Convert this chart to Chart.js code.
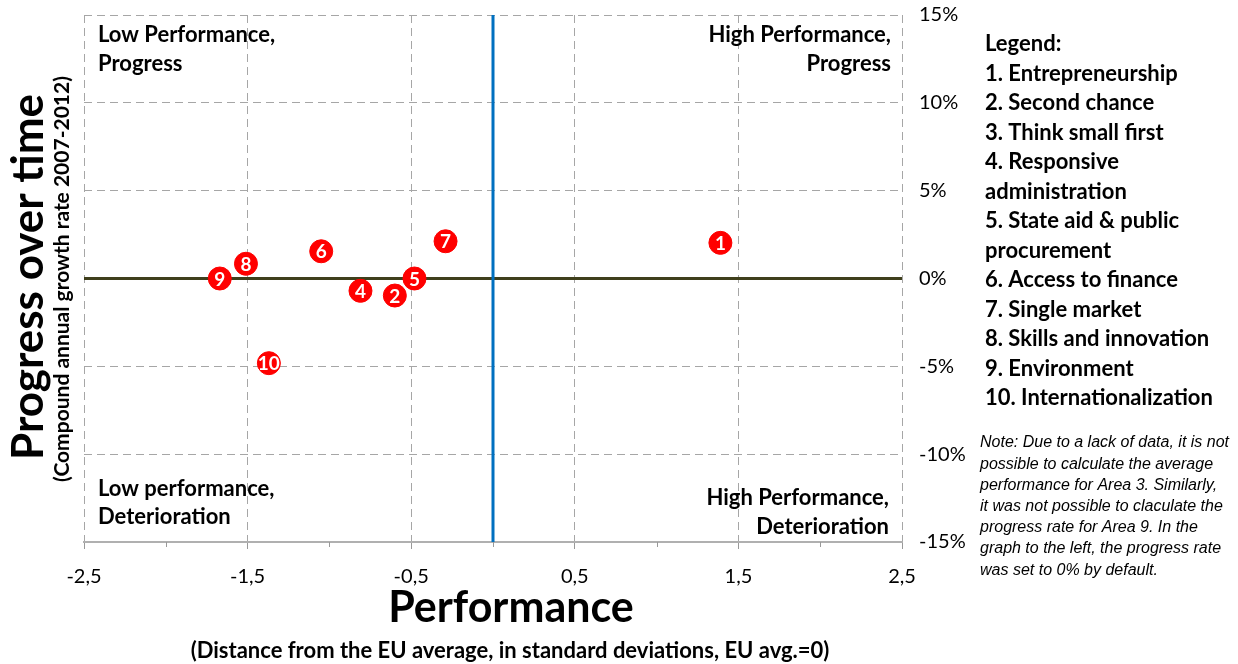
<!DOCTYPE html>
<html>
<head>
<meta charset="utf-8">
<script src="https://cdn.jsdelivr.net/npm/chart.js@4.4.1/dist/chart.umd.min.js"></script>
<style>
  html, body { margin: 0; padding: 0; background: #fff; }
  #wrap { width: 1238px; height: 664px; }
</style>
</head>
<body>
<div id="wrap"><canvas id="chart" width="1238" height="664"></canvas></div>
<script>
// data
const areaLabels = ['1', '2', '4', '5', '6', '7', '8', '9', '10'];
const performance = [1.39, -0.60, -0.81, -0.48, -1.05, -0.29, -1.51, -1.67, -1.37];
const progress = [2.03, -0.97, -0.70, 0.0, 1.55, 2.12, 0.84, 0.0, -4.82];

const xTicks = [-2.5, -1.5, -0.5, 0.5, 1.5, 2.5];
const xMinorTicks = [-2, -1, 0, 1, 2];
const yTicks = [-15, -10, -5, 0, 5, 10, 15];

const legendLines = [
    'Legend:', '1. Entrepreneurship', '2. Second chance', '3. Think small first',
    '4. Responsive', 'administration', '5. State aid & public', 'procurement',
    '6. Access to finance', '7. Single market', '8. Skills and innovation',
    '9. Environment', '10. Internationalization'
];
const noteLines = [
    'Note: Due to a lack of data, it is not',
    'possible to calculate the average',
    'performance for Area 3. Similarly,',
    'it was not possible to claculate the',
    'progress rate for Area 9. In the',
    'graph to the left, the progress rate',
    'was set to 0% by default.'
];

const FONT = 'Lato, "Open Sans", sans-serif';

const overlay = {
    id: 'overlay',
    beforeDatasetsDraw(chart) {
        // short tick marks under the x axis at whole numbers
        const ctx = chart.ctx;
        const x = chart.scales.x;
        const bottom = chart.chartArea.bottom;
        ctx.save();
        ctx.strokeStyle = '#999';
        ctx.lineWidth = 1;
        xMinorTicks.forEach(v => {
            const px = Math.round(x.getPixelForValue(v)) + 0.5;
            ctx.beginPath();
            ctx.moveTo(px, bottom);
            ctx.lineTo(px, bottom + 5);
            ctx.stroke();
        });
        ctx.restore();
    },
    afterDatasetsDraw(chart) {
        const ctx = chart.ctx;
        const meta = chart.getDatasetMeta(0);
        ctx.save();
        ctx.fillStyle = '#fff';
        ctx.textAlign = 'center';
        ctx.textBaseline = 'middle';
        ctx.font = 'bold 19px ' + FONT;
        meta.data.forEach((pt, i) => {
            ctx.fillText(areaLabels[i], pt.x, pt.y + 1);
        });
        ctx.restore();
    },
    afterDraw(chart) {
        const ctx = chart.ctx;
        const a = chart.chartArea;
        ctx.save();
        ctx.fillStyle = '#000';
        ctx.textBaseline = 'middle';

        // quadrant captions
        ctx.font = 'bold 22px ' + FONT;
        ctx.textAlign = 'left';
        ctx.fillText('Low Performance,', a.left + 14, 35);
        ctx.fillText('Progress', a.left + 14, 64);
        ctx.fillText('Low performance,', a.left + 14, 489);
        ctx.fillText('Deterioration', a.left + 14, 517);
        ctx.textAlign = 'right';
        ctx.fillText('High Performance,', a.right - 11, 35);
        ctx.fillText('Progress', a.right - 11, 64);
        ctx.fillText('High Performance,', a.right - 13, 498);
        ctx.fillText('Deterioration', a.right - 13, 527);

        // x titles
        ctx.textAlign = 'center';
        ctx.font = 'bold 43px ' + FONT;
        ctx.fillText('Performance', 511, 608);
        ctx.font = 'bold 22px ' + FONT;
        ctx.fillText('(Distance from the EU average, in standard deviations, EU avg.=0)', 510, 651);

        // y titles
        ctx.save();
        ctx.translate(29, 277);
        ctx.rotate(-Math.PI / 2);
        ctx.font = 'bold 44px ' + FONT;
        ctx.fillText('Progress over time', 0, 0);
        ctx.restore();
        ctx.save();
        ctx.translate(62, 279);
        ctx.rotate(-Math.PI / 2);
        ctx.font = 'bold 21px ' + FONT;
        ctx.fillText('(Compound annual growth rate 2007-2012)', 0, 0);
        ctx.restore();

        // legend block
        ctx.textAlign = 'left';
        ctx.font = 'bold 22px ' + FONT;
        legendLines.forEach((t, i) => ctx.fillText(t, 985, 44 + i * 29.5));

        // note block
        ctx.font = 'italic 16px "Liberation Sans", Arial, sans-serif';
        noteLines.forEach((t, i) => ctx.fillText(t, 980, 443 + i * 21.2));
        ctx.restore();
    }
};

new Chart(document.getElementById('chart'), {
    type: 'scatter',
    data: {
        datasets: [
            {
                label: 'Areas',
                data: performance.map((v, i) => ({ x: v, y: progress[i] })),
                backgroundColor: '#ff0000',
                borderColor: '#ff0000',
                pointRadius: 11.5,
                pointHoverRadius: 11.5,
                order: 0
            },
            {
                label: 'EU average',
                data: [{ x: 0, y: -15 }, { x: 0, y: 15 }],
                showLine: true,
                borderColor: '#0070c0',
                borderWidth: 3,
                pointRadius: 0,
                order: 1
            },
            {
                label: 'No change',
                data: [{ x: -2.5, y: 0 }, { x: 2.5, y: 0 }],
                showLine: true,
                borderColor: '#3f3f1c',
                borderWidth: 3,
                pointRadius: 0,
                order: 2
            }
        ]
    },
    options: {
        responsive: false,
        animation: false,
        layout: { padding: { left: 84, top: 15, right: 0, bottom: 0 } },
        plugins: {
            legend: { display: false },
            tooltip: { enabled: false }
        },
        scales: {
            x: {
                type: 'linear',
                min: -2.5,
                max: 2.5,
                afterBuildTicks: s => { s.ticks = xTicks.map(v => ({ value: v })); },
                afterFit: s => { s.height = 122; },
                ticks: {
                    color: '#000',
                    font: { family: FONT, size: 20 },
                    padding: 16,
                    maxRotation: 0,
                    callback: v => v.toFixed(1).replace('.', ',')
                },
                grid: { color: '#a6a6a6', lineWidth: 1, tickLength: 7, tickColor: '#999', tickBorderDash: [] },
                border: { display: true, color: '#b0b0b0', width: 2, dash: [8, 5] }
            },
            y: {
                type: 'linear',
                position: 'right',
                min: -15,
                max: 15,
                afterBuildTicks: s => { s.ticks = yTicks.map(v => ({ value: v })); },
                afterFit: s => { s.width = 336; s.paddingTop = 0; s.paddingBottom = 0; },
                ticks: {
                    color: '#000',
                    font: { family: FONT, size: 20 },
                    padding: 17,
                    callback: v => v + '%'
                },
                grid: { color: '#a6a6a6', lineWidth: 1, drawTicks: false },
                border: { display: false, dash: [8, 5] }
            }
        }
    },
    plugins: [overlay]
});
</script>
</body>
</html>
